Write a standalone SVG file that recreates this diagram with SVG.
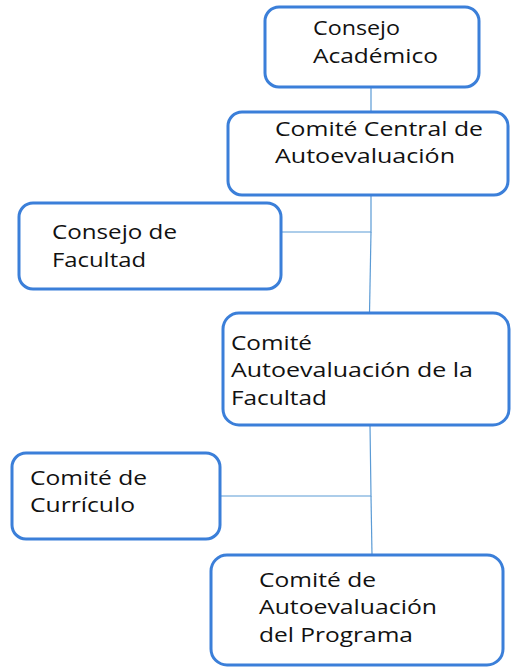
<svg xmlns="http://www.w3.org/2000/svg" width="511" height="667" viewBox="0 0 511 667">
<style>
.box{fill:#fff;stroke:#3b7fd9;stroke-width:3}
.lbl{font-family:"Open Sans","Noto Sans",sans-serif;font-size:19.5px;fill:#111}
.con{stroke:#5b9bd5;stroke-width:1.2;fill:none}
</style>
<rect width="511" height="667" fill="#fff"/>
<g id="connectors">
<line class="con" x1="371" y1="87" x2="371" y2="112"/>
<polyline class="con" points="371,195 371,232 281,232"/>
<line class="con" x1="371" y1="232" x2="369.5" y2="313"/>
<polyline class="con" points="370,425 371,496 220,496"/>
<line class="con" x1="371" y1="496" x2="372" y2="555"/>
</g>
<g id="consejo-academico">
<rect class="box" x="265" y="7" width="214" height="80" rx="14"/>
<text class="lbl" x="313" y="35" textLength="87" lengthAdjust="spacingAndGlyphs">Consejo</text>
<text class="lbl" x="313" y="63" textLength="125" lengthAdjust="spacingAndGlyphs">Académico</text>
</g>
<g id="comite-central">
<rect class="box" x="228" y="112" width="280" height="83" rx="14"/>
<text class="lbl" x="275" y="136" textLength="208" lengthAdjust="spacingAndGlyphs">Comité Central de</text>
<text class="lbl" x="275" y="163" textLength="180" lengthAdjust="spacingAndGlyphs">Autoevaluación</text>
</g>
<g id="consejo-facultad">
<rect class="box" x="19" y="203" width="262" height="86" rx="14"/>
<text class="lbl" x="52" y="239" textLength="125" lengthAdjust="spacingAndGlyphs">Consejo de</text>
<text class="lbl" x="52" y="267" textLength="94" lengthAdjust="spacingAndGlyphs">Facultad</text>
</g>
<g id="comite-facultad">
<rect class="box" x="223" y="313" width="286" height="112" rx="16"/>
<text class="lbl" x="231" y="350" textLength="81" lengthAdjust="spacingAndGlyphs">Comité</text>
<text class="lbl" x="231" y="377" textLength="242" lengthAdjust="spacingAndGlyphs">Autoevaluación de la</text>
<text class="lbl" x="231" y="405" textLength="96" lengthAdjust="spacingAndGlyphs">Facultad</text>
</g>
<g id="comite-curriculo">
<rect class="box" x="12" y="453" width="208" height="86" rx="14"/>
<text class="lbl" x="30" y="485" textLength="117" lengthAdjust="spacingAndGlyphs">Comité de</text>
<text class="lbl" x="30" y="512" textLength="105" lengthAdjust="spacingAndGlyphs">Currículo</text>
</g>
<g id="comite-programa">
<rect class="box" x="211" y="555" width="292" height="110" rx="16"/>
<text class="lbl" x="259" y="587" textLength="117" lengthAdjust="spacingAndGlyphs">Comité de</text>
<text class="lbl" x="259" y="614" textLength="178" lengthAdjust="spacingAndGlyphs">Autoevaluación</text>
<text class="lbl" x="259" y="642" textLength="154" lengthAdjust="spacingAndGlyphs">del Programa</text>
</g>
</svg>
